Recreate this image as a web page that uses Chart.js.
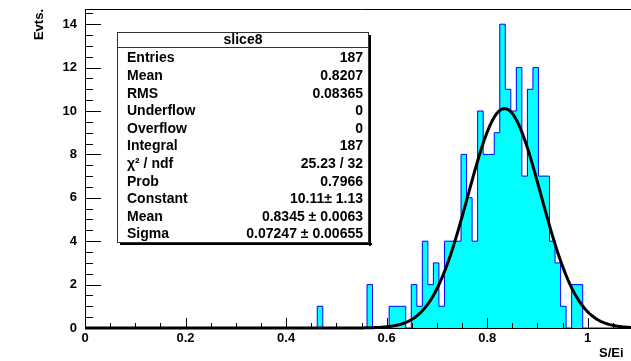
<!DOCTYPE html>
<html><head><meta charset="utf-8">
<script src="https://cdn.jsdelivr.net/npm/chart.js@4/dist/chart.umd.min.js"></script>
<style>
html,body{margin:0;padding:0;background:#fff;overflow:hidden;width:631px;height:361px;}
#wrap{position:absolute;left:0;top:0;width:650px;height:361px;}
</style></head><body>
<div id="wrap"><canvas id="c" width="650" height="361" style="width:650px;height:361px"></canvas></div>
<script>
// ---- data ----
const histTitle = 'slice8';
const xTitle = 'S/Ei';
const yTitle = 'Evts.';
const xMin = 0, xMax = 1.1, binWidth = 0.011;
const firstBin = 42;             // counts below start at bin 42 (x = 0.462)
const counts = [1,0,0,0,0,0,0,0,0,2,0,0,0,1,1,1,0,2,1,4,2,3,1,4,4,4,8,6,4,10,8,8,9,14,11,10,12,7,11,12,7,7,4,3,1,0,2,2];
const fitConstant = 10.11, fitMean = 0.8345, fitSigma = 0.07247;
const xTickValues = [0, 0.2, 0.4, 0.6, 0.8, 1.0];
const xTickLabels = ['0', '0.2', '0.4', '0.6', '0.8', '1'];
const yTickValues = [0, 2, 4, 6, 8, 10, 12, 14];
const yTickLabels = ['0', '2', '4', '6', '8', '10', '12', '14'];
const statNames  = ['Entries','Mean','RMS','Underflow','Overflow','Integral','\u03C7\u00B2 / ndf','Prob','Constant','Mean','Sigma'];
const statValues = ['187','0.8207','0.08365','0','0','187','25.23 / 32','0.7966','10.11\u00B1 1.13','0.8345 \u00B1 0.0063','0.07247 \u00B1 0.00655'];

// ---- build datasets ----
const histPoints = [{x: xMin, y: 0}];
counts.forEach((v, i) => histPoints.push({x: (firstBin + i) * binWidth, y: v}));
histPoints.push({x: (firstBin + counts.length) * binWidth, y: 0});
histPoints.push({x: xMax, y: 0});

const fitPoints = [];
for (let i = 0; i <= 550; i++) {
  const x = xMin + (xMax - xMin) * i / 550;
  const z = (x - fitMean) / fitSigma;
  fitPoints.push({x: x, y: fitConstant * Math.exp(-0.5 * z * z)});
}

const FONT = '"Liberation Sans", Arial, Helvetica, sans-serif';

const rootPlugin = {
  id: 'rootStyle',
  afterDatasetsDraw(chart) {
    const ctx = chart.ctx, a = chart.chartArea;
    const xs = chart.scales.x, ys = chart.scales.y;
    ctx.save();
    ctx.strokeStyle = '#000'; ctx.lineWidth = 1;
    // frame top
    ctx.beginPath(); ctx.moveTo(a.left, a.top + 0.5); ctx.lineTo(a.right, a.top + 0.5); ctx.stroke();
    // x ticks (inward)
    ctx.beginPath();
    for (let k = 0; k * 0.05 <= xMax + 1e-9; k++) {
      const v = k * 0.05;
      const px = Math.round(xs.getPixelForValue(v)) + 0.5;
      const len = (k % 4 === 0) ? 10 : 5;
      ctx.moveTo(px, a.bottom); ctx.lineTo(px, a.bottom - len);
    }
    // y ticks (inward)
    for (let k = 0; k * 0.5 <= 14.7 + 1e-9; k++) {
      const v = k * 0.5;
      const py = Math.round(ys.getPixelForValue(v)) + 0.5;
      const len = (k % 4 === 0) ? 16 : 8;
      ctx.moveTo(a.left, py); ctx.lineTo(a.left + len, py);
    }
    ctx.stroke();

    // stats box
    const bx = 117, by = 32, bw = 252, bh = 211;
    ctx.fillStyle = '#000';
    ctx.fillRect(bx + 3, by + bh, bw, 2);
    ctx.fillRect(bx + bw, by + 3, 2, bh);
    ctx.fillStyle = '#fff';
    ctx.fillRect(bx, by, bw, bh);
    ctx.strokeStyle = '#333';
    ctx.strokeRect(bx + 0.5, by + 0.5, bw - 1, bh - 1);
    ctx.beginPath(); ctx.moveTo(bx, by + 15.5); ctx.lineTo(bx + bw, by + 15.5); ctx.stroke();
    ctx.fillStyle = '#000';
    ctx.font = 'bold 14px ' + FONT;
    ctx.textBaseline = 'middle';
    ctx.textAlign = 'center';
    ctx.fillText(histTitle, bx + bw / 2, by + 8.5);
    for (let i = 0; i < statNames.length; i++) {
      const y = by + 26.5 + i * 17.6;
      ctx.textAlign = 'left';
      ctx.fillText(statNames[i], bx + 10, y);
      ctx.textAlign = 'right';
      ctx.fillText(statValues[i], bx + bw - 6, y);
    }

    // axis titles
    ctx.font = 'bold 13px ' + FONT;
    ctx.textAlign = 'left'; ctx.textBaseline = 'middle';
    ctx.fillText(xTitle, 599, 353);
    ctx.save();
    ctx.translate(39, 9);
    ctx.rotate(-Math.PI / 2);
    ctx.textAlign = 'right';
    ctx.fillText(yTitle, 0, 0);
    ctx.restore();
    ctx.restore();
  }
};

new Chart(document.getElementById('c'), {
  type: 'line',
  data: {
    datasets: [
      {label: 'gaus', data: fitPoints, borderColor: '#000', borderWidth: 3, pointRadius: 0, fill: false, tension: 0, order: 0, clip: 4},
      {label: histTitle, data: histPoints, stepped: 'before', borderColor: '#0000ff', borderWidth: 1,
       backgroundColor: '#00ffff', fill: 'origin', pointRadius: 0, order: 1}
    ]
  },
  options: {
    responsive: false,
    animation: false,
    events: [],
    layout: {padding: {top: 9, right: 12, left: 0, bottom: 0}},
    plugins: {legend: {display: false}, tooltip: {enabled: false}},
    scales: {
      x: {
        type: 'linear', min: xMin, max: xMax,
        afterBuildTicks: s => { s.ticks = xTickValues.map(v => ({value: v})); },
        afterFit: s => { s.height = 33; s.paddingLeft = 0; s.paddingRight = 0; },
        grid: {display: false, drawTicks: false},
        border: {display: true, color: '#000', width: 1},
        ticks: {
          color: '#000', font: {family: FONT, size: 13, weight: 'bold'}, padding: 3,
          maxRotation: 0, autoSkip: false,
          callback: (v) => { const i = xTickValues.indexOf(v); return i >= 0 ? xTickLabels[i] : ''; }
        }
      },
      y: {
        type: 'linear', min: 0, max: 14.7,
        afterBuildTicks: s => { s.ticks = yTickValues.map(v => ({value: v})); },
        afterFit: s => { s.width = 85; s.paddingTop = 0; s.paddingBottom = 0; },
        grid: {display: false, drawTicks: false},
        border: {display: true, color: '#000', width: 1},
        ticks: {
          color: '#000', font: {family: FONT, size: 13, weight: 'bold'}, padding: 8,
          callback: (v) => { const i = yTickValues.indexOf(v); return i >= 0 ? yTickLabels[i] : ''; }
        }
      }
    }
  },
  plugins: [rootPlugin]
});
</script>
</body></html>
